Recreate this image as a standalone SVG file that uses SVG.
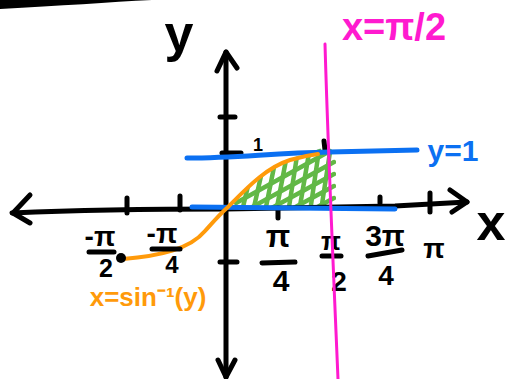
<svg xmlns="http://www.w3.org/2000/svg" width="508" height="379" viewBox="0 0 508 379">
<defs>
<style>
.ax{fill:none;stroke:#000;stroke-width:5;stroke-linecap:round;stroke-linejoin:round}
.tk{fill:none;stroke:#000;stroke-width:5;stroke-linecap:round}
.bl{fill:none;stroke:#0B70F2;stroke-width:5;stroke-linecap:round}
.or{fill:none;stroke:#FF9A0A;stroke-width:4;stroke-linecap:round}
.mg{fill:none;stroke:#FF1ACF;stroke-width:3;stroke-linecap:round}
.gr{fill:none;stroke:#62B846;stroke-width:4.5;stroke-linecap:round}
.lb{font-family:"Liberation Sans",Arial,sans-serif;font-weight:bold;fill:#000;text-anchor:middle}
</style>
<clipPath id="hatchClip">
<path d="M234,210 L234,203 C 250,182 268,165 292,158 C 303,155 312,151 322,148 L 336,148 L 336,210 Z"/>
</clipPath>
</defs>
<rect width="508" height="379" fill="#fff"/>

<path id="top-stroke" d="M0,0 L152,0 C 110,2 60,6 0,9 Z" fill="#000"/>

<g id="hatch" clip-path="url(#hatchClip)">
<path class="gr" d="M243,207 L248,186 M254,207 L261,176 M266,207 L274,167 M277,207 L286,160 M289,207 L297,156 M300,206 L309,153 M311,205 L319,150 M322,204 L330,152"/>
<path class="gr" d="M236,203 L330,151 M236,216 L334,162 M246,222 L334,174 M268,222 L334,186 M290,222 L334,198"/>
</g>

<g id="axes">
<path class="ax" d="M12,213 C 80,210 150,209 226,209 L 395,206 L 467,202"/>
<path class="ax" d="M30,195 L13,213 L30,223"/>
<path class="ax" d="M450,190 L467,202 L452,212"/>
<path class="ax" d="M226,52 L226,377"/>
<path class="ax" d="M217,71 L226,52 L237,68"/>
<path class="ax" d="M218,360 L226,377 L235,360"/>
</g>

<g id="ticks">
<path class="tk" d="M220,117 L235,117 M222,153 L241,153 M220,262 L237,262"/>
<path class="tk" d="M127,198 L127,213 M180,196 L180,210 M278,208 L278,218 M380,197 L380,203 M430,193 L430,212 M324,141 L325,150"/>
</g>

<g id="blue-lines">
<path class="bl" d="M187,158 C 240,158 270,153 330,152 L 417,150"/>
<path class="bl" d="M192,207 Q 300,208 395,209"/>
</g>

<g id="orange-curve">
<path class="or" d="M123,259 C 160,256 190,249 205,231 C 214,221 220,214 228,207 C 245,190 265,168 290,160 C 300,157 310,155 318,154"/>
<circle cx="121" cy="258" r="5" fill="#000"/>
</g>

<g id="tick-labels">
<text class="lb" x="100" y="246" font-size="28">-π</text>
<path class="tk" d="M89,252 L114,252"/>
<text class="lb" x="106" y="277" font-size="25">2</text>
<text class="lb" x="162" y="243" font-size="28">-π</text>
<path class="tk" d="M152,249 L180,249"/>
<text class="lb" x="172" y="273" font-size="24">4</text>
<text class="lb" x="278" y="247" font-size="32">π</text>
<path class="tk" d="M262,263 L295,262"/>
<text class="lb" x="281" y="291" font-size="30">4</text>
<text class="lb" x="331" y="250" font-size="26">π</text>
<path class="tk" d="M322,256 L341,256"/>
<text class="lb" x="339" y="291" font-size="28">2</text>
<text class="lb" x="385" y="246" font-size="30">3π</text>
<path class="tk" d="M368,256 L402,250"/>
<text class="lb" x="386" y="285" font-size="28">4</text>
<text class="lb" x="434" y="258" font-size="28">π</text>
<text class="lb" x="258" y="151" font-size="18">1</text>
</g>

<g id="axis-labels">
<text class="lb" x="179" y="51" font-size="52">y</text>
<text class="lb" x="491" y="240" font-size="52">x</text>
</g>

<g id="pi-half-line">
<path class="mg" d="M325,44 C 328,150 333,260 338,379"/>
<text x="394" y="40" font-family="'Liberation Sans',Arial,sans-serif" font-weight="bold" font-size="38" fill="#FF1ACF" text-anchor="middle">x=π/2</text>
</g>

<text id="y1-label" x="453" y="161" font-family="'Liberation Sans',Arial,sans-serif" font-weight="bold" font-size="30" fill="#0B70F2" text-anchor="middle">y=1</text>
<text id="arcsin-label" x="148" y="306" font-family="'Liberation Sans',Arial,sans-serif" font-weight="bold" font-size="26" fill="#FF9A0A" text-anchor="middle">x=sin⁻¹(y)</text>
</svg>
